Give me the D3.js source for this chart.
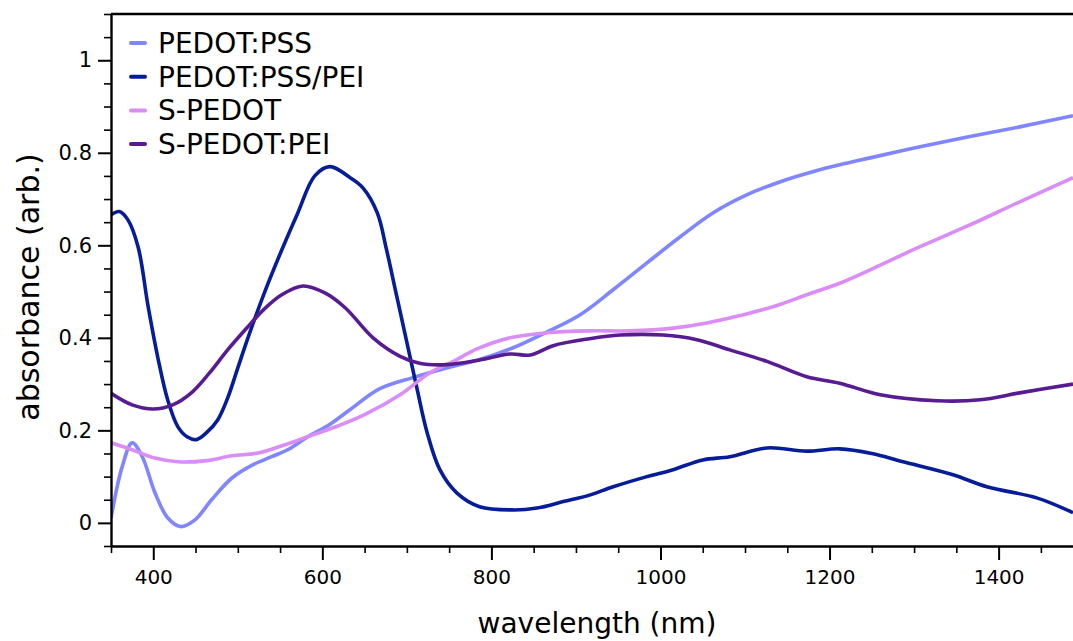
<!DOCTYPE html>
<html>
<head>
<meta charset="utf-8">
<script src="https://cdn.jsdelivr.net/npm/d3@7"></script>
<style>
  body { margin: 0; background: #fff; }
  svg { display: block; }
  text { font-family: "DejaVu Sans", sans-serif; fill: #000; }
</style>
</head>
<body>
<svg id="chart" width="1073" height="641"></svg>
<script>
// ---- data ----
var seriesNames = ['PEDOT:PSS', 'PEDOT:PSS/PEI', 'S-PEDOT', 'S-PEDOT:PEI'];
var seriesColors = ['#7f86ff', '#071c98', '#da8cf7', '#571c92'];

var pssWl  = [350, 363, 375, 387, 402, 417, 432, 449, 469, 493, 517, 540, 559, 583, 609, 633, 668, 707, 747, 786, 825, 866, 905, 944, 984, 1023, 1062, 1102, 1141, 1180, 1212, 1248, 1307, 1366, 1425, 1488];
var pssAbs = [0.01, 0.12, 0.173, 0.143, 0.065, 0.011, -0.008, 0.006, 0.05, 0.097, 0.125, 0.143, 0.158, 0.186, 0.213, 0.245, 0.29, 0.314, 0.335, 0.353, 0.378, 0.413, 0.45, 0.504, 0.562, 0.618, 0.67, 0.709, 0.737, 0.759, 0.774, 0.789, 0.813, 0.835, 0.856, 0.88];

var peiWl  = [350, 360, 370, 382, 394, 406, 417, 429, 440, 451, 463, 476, 488, 500, 512, 532, 552, 571, 591, 609, 633, 648, 665, 676, 688, 700, 712, 724, 739, 759, 786, 825, 854, 885, 916, 944, 984, 1015, 1050, 1082, 1126, 1173, 1212, 1250, 1287, 1346, 1386, 1445, 1488];
var peiAbs = [0.666, 0.673, 0.655, 0.597, 0.467, 0.352, 0.266, 0.208, 0.186, 0.18, 0.195, 0.222, 0.27, 0.335, 0.40, 0.50, 0.59, 0.67, 0.75, 0.77, 0.746, 0.724, 0.67, 0.59, 0.49, 0.39, 0.29, 0.195, 0.115, 0.065, 0.035, 0.028, 0.032, 0.046, 0.06, 0.078, 0.10, 0.115, 0.136, 0.143, 0.162, 0.155, 0.16, 0.15, 0.132, 0.104, 0.078, 0.054, 0.022];

var spWl  = [350, 375, 402, 429, 461, 493, 524, 556, 588, 619, 650, 692, 727, 754, 783, 822, 866, 916, 964, 1015, 1055, 1094, 1133, 1173, 1212, 1248, 1307, 1366, 1425, 1488];
var spAbs = [0.173, 0.158, 0.14, 0.132, 0.134, 0.145, 0.151, 0.169, 0.19, 0.21, 0.234, 0.277, 0.324, 0.348, 0.376, 0.40, 0.411, 0.415, 0.415, 0.421, 0.432, 0.448, 0.467, 0.493, 0.518, 0.547, 0.597, 0.644, 0.694, 0.746];

var speWl  = [350, 375, 400, 423, 445, 466, 488, 510, 530, 552, 577, 603, 627, 660, 692, 715, 747, 786, 822, 846, 873, 916, 952, 1003, 1043, 1082, 1126, 1173, 1212, 1260, 1327, 1378, 1425, 1488];
var speAbs = [0.28, 0.255, 0.246, 0.255, 0.281, 0.323, 0.374, 0.42, 0.46, 0.493, 0.512, 0.497, 0.465, 0.40, 0.36, 0.345, 0.342, 0.352, 0.365, 0.363, 0.383, 0.398, 0.406, 0.406, 0.396, 0.374, 0.349, 0.316, 0.302, 0.277, 0.264, 0.266, 0.281, 0.30];

var xTicks = [400, 600, 800, 1000, 1200, 1400];
var yTicks = [0, 0.2, 0.4, 0.6, 0.8, 1];

(function() {
  'use strict';

  var series = [
    { name: seriesNames[0], wl: pssWl, abs: pssAbs },
    { name: seriesNames[1], wl: peiWl, abs: peiAbs },
    { name: seriesNames[2], wl: spWl,  abs: spAbs },
    { name: seriesNames[3], wl: speWl, abs: speAbs }
  ];

  // plot box (right edge runs off the picture)
  var margin = {left: 111, right: 1073, top: 14, bottom: 546};

  var svg = d3.select('#chart');

  var x = d3.scaleLinear().domain([350, 1488]).range([margin.left, margin.right]);
  var y = d3.scaleLinear().domain([-0.05, 1.1]).range([margin.bottom, margin.top]);

  svg.append('clipPath').attr('id', 'plot')
    .append('rect')
      .attr('x', margin.left).attr('y', margin.top)
      .attr('width', margin.right - margin.left)
      .attr('height', margin.bottom - margin.top);

  var line = d3.line()
    .x(function(d) { return x(d[0]); })
    .y(function(d) { return y(d[1]); })
    .curve(d3.curveCatmullRom.alpha(0.5));

  svg.append('g').attr('clip-path', 'url(#plot)')
    .selectAll('path')
    .data(series)
    .enter().append('path')
      .attr('d', function(s) { return line(d3.zip(s.wl, s.abs)); })
      .attr('fill', 'none')
      .attr('stroke', function(s, i) { return seriesColors[i]; })
      .attr('stroke-width', 3.6)
      .attr('stroke-linejoin', 'round');

  // minor ticks
  var xMinor = d3.range(350, 1500, 50).filter(function(v) { return xTicks.indexOf(v) < 0; });
  var yMinor = d3.range(-0.05, 1.11, 0.05).map(function(v) { return +v.toFixed(2); })
    .filter(function(v) { return yTicks.indexOf(v) < 0; });

  svg.append('g')
    .attr('transform', 'translate(0,' + margin.bottom + ')')
    .call(d3.axisBottom(x).tickValues(xMinor).tickSize(7).tickFormat(''))
    .call(function(g) { g.select('.domain').remove(); })
    .selectAll('line').attr('stroke-width', 1.6);

  svg.append('g')
    .attr('transform', 'translate(' + margin.left + ',0)')
    .call(d3.axisLeft(y).tickValues(yMinor).tickSize(7).tickFormat(''))
    .call(function(g) { g.select('.domain').remove(); })
    .selectAll('line').attr('stroke-width', 1.6);

  // major ticks + labels
  var xAxis = svg.append('g')
    .attr('transform', 'translate(0,' + margin.bottom + ')')
    .call(d3.axisBottom(x).tickValues(xTicks).tickSize(14).tickPadding(10).tickSizeOuter(0)
      .tickFormat(d3.format('d')));
  xAxis.select('.domain').attr('stroke-width', 2.4);
  xAxis.selectAll('line').attr('stroke-width', 2);
  xAxis.selectAll('text').attr('font-size', 20);

  var yAxis = svg.append('g')
    .attr('transform', 'translate(' + margin.left + ',0)')
    .call(d3.axisLeft(y).tickValues(yTicks).tickSize(13).tickPadding(6).tickSizeOuter(0)
      .tickFormat(function(d) { return String(+d.toFixed(1)); }));
  yAxis.select('.domain').attr('stroke-width', 2.4);
  yAxis.selectAll('line').attr('stroke-width', 2);
  yAxis.selectAll('text').attr('font-size', 21);

  // top border
  svg.append('line')
    .attr('x1', margin.left).attr('x2', margin.right)
    .attr('y1', margin.top).attr('y2', margin.top)
    .attr('stroke', '#000').attr('stroke-width', 2.4);

  // axis titles
  svg.append('text')
    .attr('x', 597).attr('y', 633)
    .attr('text-anchor', 'middle')
    .attr('font-size', 28)
    .text('wavelength (nm)');

  svg.append('text')
    .attr('transform', 'translate(39,287) rotate(-90)')
    .attr('text-anchor', 'middle')
    .attr('font-size', 30)
    .text('absorbance (arb.)');

  // legend
  var legend = svg.append('g').selectAll('g')
    .data(series)
    .enter().append('g')
      .attr('transform', function(s, i) { return 'translate(0,' + (43 + i * 33.7) + ')'; });

  legend.append('line')
    .attr('x1', 131).attr('x2', 145)
    .attr('stroke', function(s, i) { return seriesColors[i]; })
    .attr('stroke-width', 4)
    .attr('stroke-linecap', 'round');

  legend.append('text')
    .attr('x', 158).attr('dy', '0.36em')
    .attr('font-size', 28)
    .text(function(s) { return s.name; });
})();
</script>
</body>
</html>
